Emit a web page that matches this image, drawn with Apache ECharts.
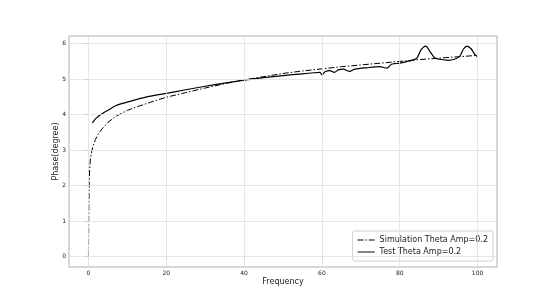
<!DOCTYPE html>
<html>
<head>
<meta charset="utf-8">
<script src="https://cdn.jsdelivr.net/npm/echarts@6/dist/echarts.min.js"></script>
<style>html,body{margin:0;padding:0;background:#fff;}#c{width:553px;height:300px;}</style>
</head>
<body>
<div id="c"></div>
<script>
const xTicks = [0, 20, 40, 60, 80, 100];
const yTicks = [0, 1, 2, 3, 4, 5, 6];
const simName = 'Simulation Theta Amp=0.2';
const testName = 'Test Theta Amp=0.2';
const simX = [0, 0.05, 0.1, 0.2, 0.3, 0.5, 0.8, 1.2, 1.8, 2.5, 3.5, 5, 7, 10, 13, 16, 20, 25, 30, 35, 40, 45, 50, 55, 60, 65, 70, 75, 80, 85, 90, 95, 100];
const simY = [0, 0.8, 1.5, 2.1, 2.45, 2.75, 2.95, 3.12, 3.3, 3.45, 3.6, 3.78, 3.95, 4.12, 4.24, 4.35, 4.49, 4.62, 4.75, 4.87, 4.98, 5.07, 5.16, 5.23, 5.29, 5.35, 5.40, 5.45, 5.50, 5.55, 5.59, 5.63, 5.67];
const testX = [1, 1.5, 2, 3, 4, 5, 7, 10, 15, 20, 25, 30, 35, 40, 45, 50, 55, 58, 59.5, 60, 60.8, 62, 63.2, 64.2, 65.5, 67, 68.5, 71.5, 74.9, 76.7, 77.9, 80, 82, 84.3, 85.5, 86.7, 87.7, 89, 90.3, 92.4, 94.1, 95.4, 96.4, 97.3, 98.4, 99.2, 100];
const testY = [3.77, 3.84, 3.9, 3.99, 4.06, 4.12, 4.25, 4.35, 4.5, 4.6, 4.7, 4.8, 4.89, 4.97, 5.04, 5.1, 5.15, 5.18, 5.19, 5.12, 5.21, 5.24, 5.19, 5.26, 5.28, 5.22, 5.28, 5.32, 5.35, 5.31, 5.42, 5.45, 5.5, 5.58, 5.83, 5.93, 5.79, 5.6, 5.56, 5.53, 5.56, 5.64, 5.85, 5.93, 5.85, 5.71, 5.63];

const chart = echarts.init(document.getElementById('c'), null, {renderer: 'canvas'});
const font = 'DejaVu Sans';
const gridColor = '#e0e0e0';
const dashDotIcon = 'path://M0,0H6V1H0Z M8,0H9.5V1H8Z M11.5,0H17.5V1H11.5Z';
const solidIcon = 'path://M0,0H17.5V1H0Z';
chart.setOption({
  animation: false,
  backgroundColor: '#fff',
  grid: {left: 69, right: 56, top: 36, bottom: 33, show: true, borderColor: '#b0b0b0', borderWidth: 1, containLabel: false},
  xAxis: {
    type: 'value', min: -5, max: 105,
    name: 'Frequency', nameLocation: 'middle', nameGap: 10.5, nameMoveOverlap: false,
    nameTextStyle: {fontFamily: font, fontSize: 8, color: '#222'},
    axisLine: {show: false},
    axisTick: {show: true, customValues: xTicks, length: 3, lineStyle: {color: '#888'}},
    axisLabel: {customValues: xTicks, fontFamily: font, fontSize: 6, color: '#222', margin: 3},
    splitLine: {show: false}
  },
  yAxis: {
    type: 'value', min: -0.296, max: 6.216,
    name: 'Phase(degree)', nameLocation: 'middle', nameGap: 9.5, nameMoveOverlap: false,
    nameTextStyle: {fontFamily: font, fontSize: 8, color: '#222'},
    axisLine: {show: false},
    axisTick: {show: true, customValues: yTicks, length: 3, lineStyle: {color: '#888'}},
    axisLabel: {customValues: yTicks, fontFamily: font, fontSize: 6, color: '#222', margin: 3},
    splitLine: {show: false}
  },
  legend: {
    orient: 'vertical', right: 60, bottom: 39,
    backgroundColor: '#fff', borderColor: '#d0d0d0', borderWidth: 1, borderRadius: 2,
    padding: [5, 5, 5, 5], itemGap: 4, itemWidth: 17, itemHeight: 1.2,
    textStyle: {fontFamily: font, fontSize: 8, color: '#222'},
    data: [{name: simName, icon: dashDotIcon}, {name: testName, icon: solidIcon}]
  },
  series: [
    {
      name: 'gridX', type: 'line', data: [], silent: true, legendHoverLink: false,
      markLine: {silent: true, symbol: 'none', label: {show: false},
        lineStyle: {color: gridColor, width: 0.8, type: 'solid'},
        data: xTicks.map(v => ({xAxis: v})).concat(yTicks.map(v => ({yAxis: v})))}
    },
    {
      name: simName, type: 'line', showSymbol: false, symbol: 'none', smooth: false,
      data: simX.map((x, i) => [x, simY[i]]),
      lineStyle: {color: '#000', width: 1, type: [6, 2, 1.5, 2]},
      itemStyle: {color: '#000'}, z: 3
    },
    {
      name: testName, type: 'line', showSymbol: false, symbol: 'none', smooth: 0.3,
      data: testX.map((x, i) => [x, testY[i]]),
      lineStyle: {color: '#000', width: 1.2},
      itemStyle: {color: '#000'}, z: 4
    }
  ]
});
</script>
</body>
</html>
